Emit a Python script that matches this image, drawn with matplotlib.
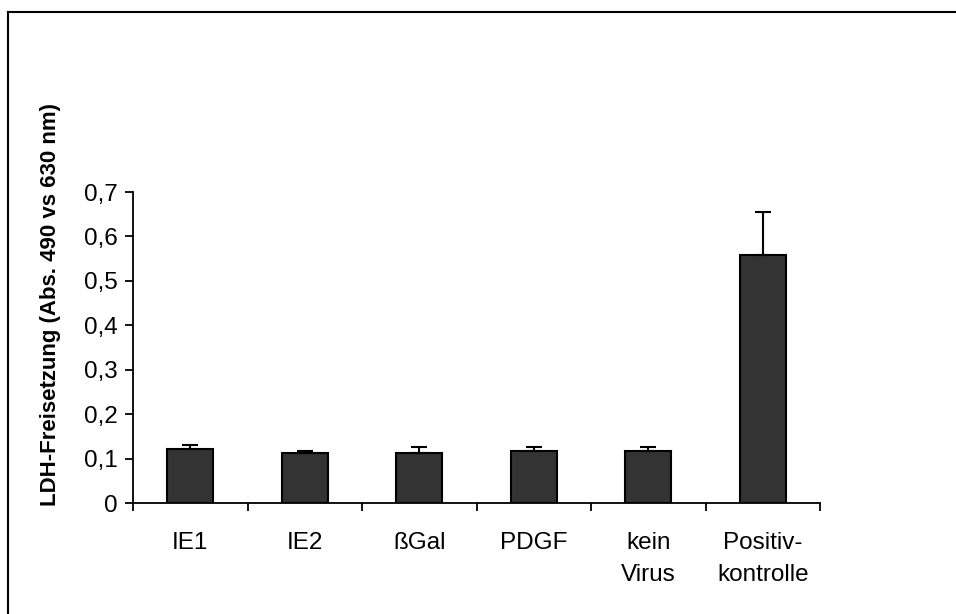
import matplotlib
matplotlib.use('Agg')
import matplotlib.pyplot as plt
from matplotlib.lines import Line2D
from matplotlib.ticker import FixedLocator, FuncFormatter
import numpy as np

plt.rcParams['font.family'] = ['Liberation Sans', 'DejaVu Sans']

# Daten
categories = ['IE1', 'IE2', 'ßGal', 'PDGF', 'kein\nVirus', 'Positiv-\nkontrolle']
ldh_mean = [0.121, 0.112, 0.112, 0.116, 0.117, 0.559]
ldh_err = [0.010, 0.005, 0.014, 0.010, 0.009, 0.096]
y_ticks = [0, 0.1, 0.2, 0.3, 0.4, 0.5, 0.6, 0.7]

fig = plt.figure(figsize=(9.56, 6.14), dpi=100)
ax = fig.add_axes([133 / 956, 1 - 503 / 614, 687 / 956, 311 / 614])

x = np.arange(len(categories))
ax.bar(x, ldh_mean, width=0.4, color='#333333', edgecolor='black', linewidth=1.5, zorder=2)
ax.errorbar(x, ldh_mean, yerr=[np.zeros(len(ldh_err)), ldh_err], fmt='none',
            ecolor='black', elinewidth=1.5, capsize=5.5, capthick=1.5, zorder=3)

ax.set_xlim(-0.5, len(categories) - 0.5)
ax.set_ylim(0, 0.7)

# Achsen
for s in ['top', 'right']:
    ax.spines[s].set_visible(False)
ax.spines['left'].set_linewidth(1.3)
ax.spines['bottom'].set_linewidth(1.3)

ax.set_yticks(y_ticks)
ax.yaxis.set_major_formatter(FuncFormatter(lambda v, p: '0' if v == 0 else ('%.1f' % v).replace('.', ',')))
ax.tick_params(axis='y', direction='out', length=6, width=1.3, labelsize=17.5, pad=5)

ax.set_xticks(x)
ax.set_xticklabels(categories, fontsize=17.5, linespacing=1.55)
ax.tick_params(axis='x', which='major', length=0, pad=21)
ax.xaxis.set_minor_locator(FixedLocator(np.arange(-0.5, len(categories), 1.0)))
ax.tick_params(axis='x', which='minor', direction='out', length=6, width=1.3)
for lab in ax.get_xticklabels():
    lab.set_verticalalignment('top')

fig.text(51 / 956, 1 - 304 / 614, 'LDH-Freisetzung (Abs. 490 vs 630 nm)', rotation=90,
         fontsize=16, fontweight='bold', ha='center', va='center')

# Rahmen oben und links
fig.add_artist(Line2D([7.5 / 956, 956 / 956], [1 - 11.5 / 614, 1 - 11.5 / 614],
                      transform=fig.transFigure, color='black', linewidth=1.5))
fig.add_artist(Line2D([7.5 / 956, 7.5 / 956], [0, 1 - 11.5 / 614],
                      transform=fig.transFigure, color='black', linewidth=1.5))

fig.savefig('out.png', dpi=100)
